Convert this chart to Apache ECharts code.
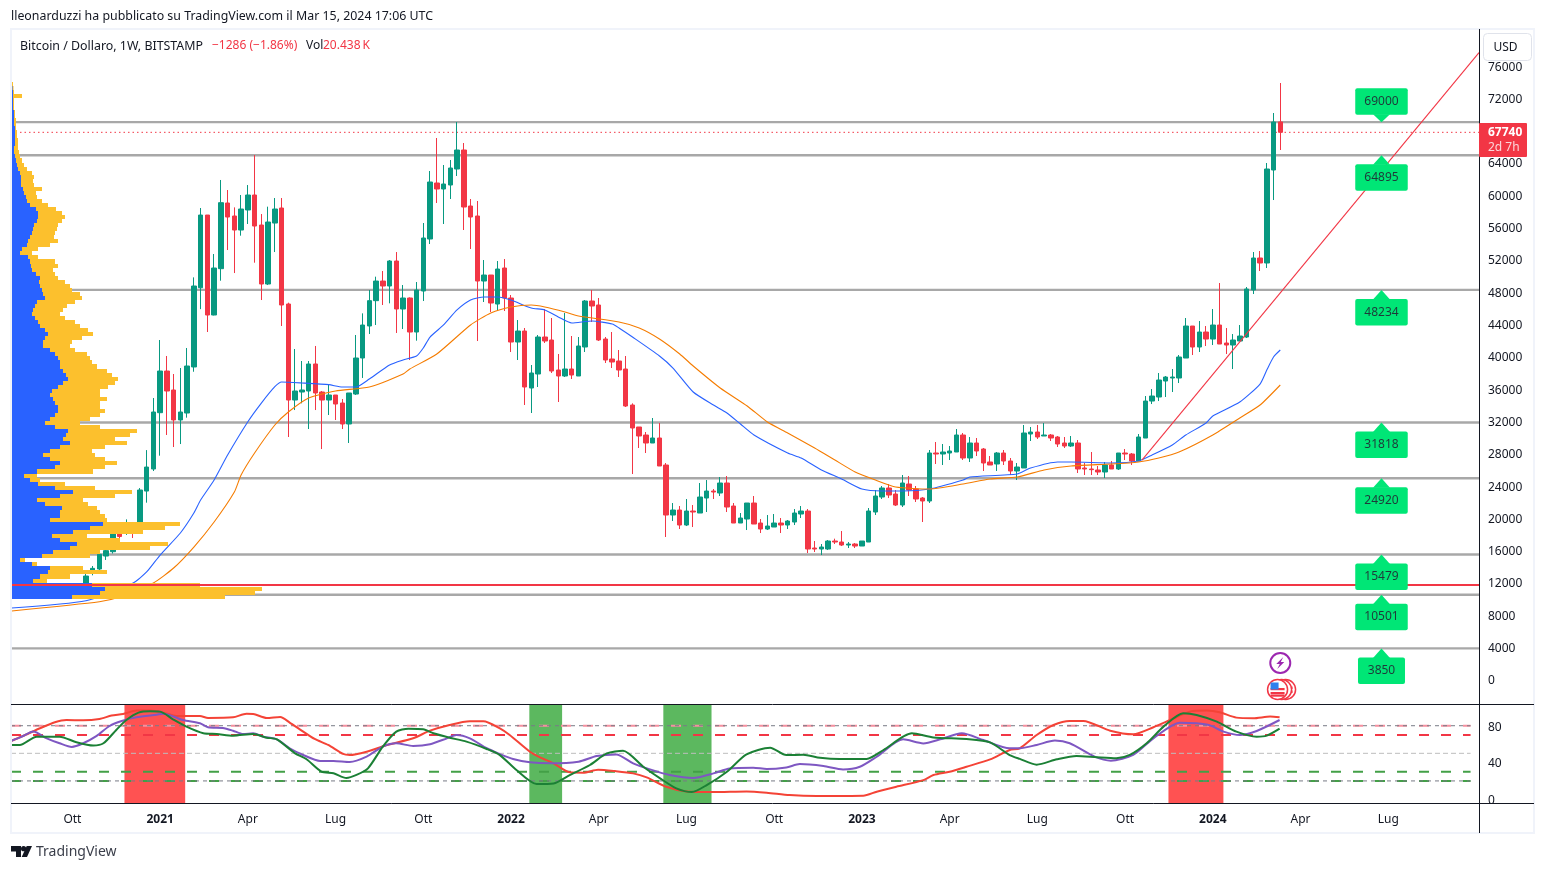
<!DOCTYPE html>
<html>
<head>
<meta charset="utf-8">
<style>html,body{margin:0;padding:0;background:#fff}#c{width:1545px;height:870px}</style>
<script src="https://cdn.jsdelivr.net/npm/echarts@6/dist/echarts.min.js"></script>
</head>
<body>
<div id="c"></div>
<script>
// ---------- DATA ----------
const headerText = 'lleonarduzzi ha pubblicato su TradingView.com il Mar 15, 2024 17:06 UTC';
const symbolText = 'Bitcoin / Dollaro, 1W, BITSTAMP';
const changeText = '\u22121286 (\u22121.86%)';
const volLabel = 'Vol';
const volText = '20.438\u2009K';
const lastPrice = 67740;
const firstCandleWeek = -167; // weeks relative to Jan 1 2024
// open, close, low, high per week
const candleOHLC = [
[11450,12810,11300,13345],[13140,13760,12900,14050],[13680,15500,13140,15900],[15285,15950,14800,16320],[15820,18100,15600,18900],
[18500,17700,16250,19450],[18100,19200,17900,19825],[19300,18800,17515,19500],[19330,23460,19000,23700],[23330,26300,21890,28400],
[26060,33115,25810,34850],[33030,38190,27710,42030],[38190,35715,30270,40050],[35840,32130,28780,37820],[32130,33115,29150,38560],
[32990,38810,32415,41040],[38690,48715,38100,49785],[48500,57500,45850,58370],[57500,45125,43020,57500],[45125,50940,45080,52675],
[50860,59030,49370,61840],[58990,57255,53170,60600],[57380,55645,50320,58450],[55645,58245,54945,59980],[58125,59980,56390,61215],
[59980,56140,51600,64930],[56265,48960,46980,57625],[48960,56636,48835,58535],[56510,58245,52920,59607],[58370,46363,43763,59607],
[46487,34600,30020,46650],[34600,35715,33360,40915],[35590,35840,34190,39430],[35715,39060,31010,39430],[39060,35470,33360,41290],
[35590,34600,28530,35715],[34600,35220,32745,36580],[35220,34105,32125,35220],[34230,31630,31010,34725],[31630,35470,29280,35470],
[35340,39800,35220,42650],[39800,43885,37330,45330],[43765,46900,42770,48217],[46900,49330,43887,49870],[49330,48715,46363,50570],
[48715,51810,46570,51930],[51810,45868,42900,52920],[45866,47228,43390,48838],[47228,43018,39553,47300],[43018,48218,41945,49208],
[48094,54656,46856,56514],[54533,61590,53913,62952],[61466,60723,58990,67037],[60723,61342,56390,63694],[61218,63323,59485,64313],
[63199,65552,62332,69018],[65552,58494,55647,66418],[58618,57256,53295,59485],[57380,49332,41904,59237],[49332,50075,46733,51932],
[50075,46608,45495,50075],[46485,50818,45618,51808],[50942,47228,45618,52056],[47228,41780,40542,47600],[41780,43142,39553,44504],
[43142,36210,33982,43515],[36087,37944,32991,38934],[37820,42401,36210,42649],[42401,41906,41658,45868],[42030,38191,37944,44753],
[38315,37572,34353,40296],[37572,38439,37449,45372],[38439,37696,37201,42525],[37572,41287,37572,42401],[41163,46858,40544,46982],
[46858,46239,44258,48220],[46363,42030,41906,47230],[42153,39553,39182,42401],[39677,39305,38563,43020],[39430,38315,37449,40791],
[38439,33858,33734,40048],[33982,31134,25439,34188],[31258,30144,28658,31258],[30267,29277,28039,30639],[29277,29896,29277,32372],
[29896,26430,26430,31753],[26553,20362,17640,26800],[20362,20981,19620,21848],[20981,19124,18630,21477],[19124,20858,18999,22344],
[20858,20734,18877,21601],[20610,22591,20610,24325],[22467,23334,20734,24696],[23334,23210,22344,23582],[23087,24325,22715,25068],
[24325,21353,20734,25191],[21477,19372,19372,21848],[19372,19991,19372,20610],[19867,21848,18505,21848],[21848,19248,19248,22715],
[19372,18630,18134,19867],[18630,18999,18505,20362],[18877,19372,18877,20486],[19372,19124,18134,19991],[19124,19620,18630,19744],
[19496,20610,19124,21106],[20486,20858,19991,21477],[20858,16154,15658,21106],[16277,16154,15782,17144],[16154,16401,15410,16772],
[16154,17144,16030,17268],[17144,17020,16772,17433],[17020,16649,16525,18382],[16649,16772,16277,17020],[16772,16525,16277,16896],
[16525,17144,16525,17144],[17020,20858,17020,21229],[20734,22715,20362,23458],[22591,23706,22344,23953],[23706,22839,22467,24201],
[22963,21601,21477,23458],[21602,24326,21354,25316],[24202,23459,22716,25192],[23583,22345,21973,23955],[22469,22097,19497,22593],
[22097,28040,21850,28412],[28040,27916,26678,29402],[27916,28164,26554,29154],[28040,28288,27173,28907],[28164,30268,28164,31012],
[30268,27421,27173,30516],[27421,29278,26926,30021],[29278,28288,27669,29897],[28535,26802,25811,28659],[26926,26554,26554,27669],
[26678,28040,25811,28164],[28040,27050,26554,28412],[27050,25811,25316,27421],[25811,26307,24697,26802],[26183,30516,26183,31507],
[30392,30640,29526,31259],[30640,30021,29773,31507],[30145,30268,30145,31754],[30268,29897,29526,30392],[30021,29154,28783,30145],
[29278,28907,28659,30021],[28907,29278,28783,30145],[29278,26059,25564,29650],[26183,26059,25316,26802],[26059,25977,25316,28164],
[25935,25688,25316,26431],[25688,26554,24945,26926],[26554,26059,26059,27050],[26059,28040,25935,28040],[28040,27916,27173,28535],
[27916,27050,26554,28040],[27050,30021,27050,30392],[29893,34474,29893,35097],[34474,35094,34103,35961],[34970,37076,34474,37942],
[36951,37447,34970,37571],[37323,37447,35590,38437],[37323,39923,36703,40170],[39799,43761,39799,44752],[43761,41161,40170,43761],
[41161,43017,40542,44380],[43017,42150,41284,43761],[42150,43884,41408,45865],[43884,41532,41532,49085],[41656,41408,40294,43513],
[41408,42027,38436,42771],[41903,42523,41903,43884],[42399,48342,42275,48590],[48218,52180,47723,52923],[52180,51561,50570,53046],
[51561,63199,50941,63942],[63075,69018,59360,70132],[69026,67740,65551,73846]
];
// moving averages: [week, price]
const blueMA = [[-178,8850],[-167,9755],[-160,11950],[-158,13310],[-156,15410],[-153,18140],[-151,20610],[-150,22220],[-148,24700],[-146,27790],[-143,31910],[-141,34220],[-139,36250],[-138,36830],[-135,36710],[-131,36500],[-129,36210],[-127,36210],[-125,37200],[-122,38940],[-120,39560],[-118,40050],[-117,41040],[-116,42400],[-114,43890],[-112,45750],[-110,46980],[-108,47360],[-106,47360],[-104,46980],[-101,45990],[-99,45750],[-97,44880],[-95,44130],[-92,44380],[-89,44010],[-88,43520],[-86,42400],[-82,40050],[-80,38560],[-77,35590],[-74,33980],[-72,33000],[-70,31630],[-68,30270],[-63,28040],[-61,27420],[-58,25940],[-55,24820],[-52,23580],[-49,23340],[-46,23340],[-42,23580],[-37,24700],[-36,25070],[-29,25440],[-27,26180],[-23,26930],[-21,26930],[-15,26810],[-11,27050],[-9,27790],[-6,29030],[-4,30270],[-1,31750],[0,32620],[4,34350],[7,36580],[8,38310],[9,39930],[10,40790]];
const orangeMA = [[-178,8480],[-165,9630],[-162,10210],[-157,11950],[-154,13800],[-151,16400],[-148,19500],[-145,23210],[-144,25320],[-142,28040],[-139,31510],[-137,33120],[-134,34850],[-130,35720],[-125,36210],[-120,37820],[-119,38440],[-115,40300],[-110,43890],[-107,45370],[-104,46120],[-101,46360],[-99,46120],[-96,45500],[-94,45000],[-88,44260],[-85,43520],[-82,42160],[-79,40300],[-77,38810],[-73,36090],[-69,33860],[-66,31880],[-63,30520],[-59,28660],[-56,27170],[-53,25690],[-50,24700],[-47,23830],[-42,23580],[-37,24200],[-33,24820],[-29,25070],[-25,25940],[-21,26430],[-15,26680],[-11,26930],[-8,27420],[-5,28160],[0,30270],[4,32370],[7,33980],[10,36460]];
const trendLine = [[-10.5,27170],[39.45,77600]];
const levelValues = [69000,64895,48234,31818,24920,15479,10501,3850];
const supportLevel = 11700;
const levelLabelWeek = 25;
const priceTicks = [0,4000,8000,12000,16000,20000,24000,28000,32000,36000,40000,44000,48000,52000,56000,60000,64000,72000,76000];
const timeTickWeeks = [-169,-156,-143,-130,-117,-104,-91,-78,-65,-52,-39,-26,-13,0,13,26];
const timeTickLabels = ['Ott','2021','Apr','Lug','Ott','2022','Apr','Lug','Ott','2023','Apr','Lug','Ott','2024','Apr','Lug'];
// volume profile, one row per 500 USD from 10000 upward: [buy edge, total edge]
const profileBase = 10000;
const profileBlue = [72,100,105,92,33,40,48,50,32,20,42,53,70,77,60,52,73,90,103,50,60,60,62,45,37,60,73,55,38,30,24,37,55,60,50,43,50,60,70,63,66,68,55,45,50,55,58,58,55,53,50,52,58,63,68,66,63,60,60,58,55,50,43,43,45,48,45,40,38,35,32,33,35,37,45,43,42,40,39,40,36,32,31,30,28,20,22,27,28,30,32,33,34,37,38,38,36,30,27,26,24,23,21,21,21,20,18,17,16,15,14,14,15,15,15,15,15,14,14,14,14,13,13,13,13,13,12.5,12];
const profileTotal = [225,255,262,200,47,70,107,83,37,25,90,100,150,168,120,87,143,165,180,107,105,100,97,88,83,115,132,95,65,40,37,93,105,117,105,95,92,105,127,115,130,137,100,80,90,100,105,100,100,107,100,100,108,115,118,112,107,97,92,90,87,75,70,72,82,93,88,80,75,65,60,63,67,75,82,80,72,70,65,58,55,53,58,55,38,32,38,50,58,54,55,57,58,62,65,62,56,48,42,37,36,42,34,33,34,32,27,24,22,20,19,18,18,18,17,17,16,16,16,15,15,14,14,14,22,14,13.5,13];
// oscillator: [week, value]
const oscRed = [[-178.1,63.4],[-176,69.9],[-173.8,77.2],[-171.6,83.7],[-169.9,86.2],[-167.4,85.9],[-165,87.3],[-163.2,91],[-161.5,92.8],[-159.5,96.4],[-157.5,96.4],[-155.5,94.2],[-153.6,90.6],[-150.1,90.6],[-148.9,88.4],[-145.2,89.1],[-143.2,93.1],[-142.2,92.8],[-140.2,88.4],[-138.2,89.5],[-136.8,83.4],[-135.3,76.1],[-133.1,65.6],[-131.1,59.1],[-128.9,49.3],[-127.9,48.2],[-125.4,51.8],[-122.5,58.7],[-118.5,66.3],[-116,74.6],[-113.1,80.8],[-110.1,84.8],[-108.1,84.8],[-105.65,77.1],[-104.2,69.9],[-101.2,51.7],[-99.7,45.6],[-97.7,39.1],[-95.3,29.3],[-93.3,28.9],[-91.1,32.2],[-88.6,30.7],[-85.9,28.2],[-83.9,23.8],[-81,13.7],[-78,8.6],[-74,7.9],[-69.1,8.6],[-66.1,7.2],[-62.7,4.6],[-58.7,3.6],[-51.8,3.9],[-49.8,8.3],[-46.9,13.7],[-42.9,20.9],[-41.4,26.4],[-39,30],[-36.5,35.4],[-33,43.4],[-30.1,53.6],[-28.6,55.4],[-26.1,69.9],[-23.6,80.8],[-21.2,85.2],[-19.2,85.2],[-15.2,74.6],[-11.8,70.7],[-8.8,78.3],[-6.3,86.2],[-3.4,95.3],[-0.9,96.4],[1,94.6],[3.5,88.8],[6,88.1],[8.5,89.9],[9.9,89.1]];
const oscPurple = [[-178.1,63.4],[-176.5,68.1],[-174.8,73.6],[-172.8,66.3],[-170.9,60.9],[-169.1,56.9],[-167.4,60.9],[-165.4,68.9],[-163.5,79.7],[-161.7,85.2],[-159.5,89.1],[-156.5,92],[-155.5,93.1],[-152.6,86.2],[-150.1,82.6],[-148.9,78.3],[-146.7,77.5],[-145.2,74.6],[-143.7,71],[-142.2,71.8],[-140.7,68.1],[-138.7,65.2],[-136.8,55.5],[-134.8,48.2],[-132.3,41.7],[-130.3,41.7],[-127.9,40.6],[-125.4,46.4],[-123,57.3],[-121,60.9],[-118.5,58],[-116,59.8],[-113.5,66.3],[-112.1,70],[-110.1,66.3],[-107.6,55.5],[-105.65,49.2],[-103.7,43.8],[-101.2,40.2],[-98.2,39.1],[-94,40.9],[-91.3,47],[-88.4,48.8],[-85.9,39.1],[-83.4,32.5],[-80.5,26.4],[-77,23.1],[-74,28.2],[-71.6,33.6],[-68.1,34.4],[-66.1,32.9],[-63.2,34.7],[-61.2,38.3],[-57.7,36.2],[-54.8,32.5],[-52.3,35.4],[-49.8,46.3],[-45.9,65.2],[-42.9,60.8],[-40.4,65.2],[-37.2,71.7],[-34,64.4],[-30.1,55.4],[-28.6,55.4],[-26.1,59.1],[-23.4,63.8],[-21.2,60.9],[-17.5,46.4],[-15.1,42],[-11.8,48.2],[-8.8,66.3],[-4.9,83.3],[-2.4,82.6],[-0.4,80.4],[1.6,73.6],[4,69.9],[6.5,74.3],[9.9,86.2]];
const oscGreen = [[-178.1,59.1],[-176.8,59.1],[-174.3,68.1],[-170.9,68.1],[-168.4,62],[-165.9,58.4],[-164.4,60.9],[-162.5,75.4],[-161,86.2],[-159.2,94.2],[-157.5,95.7],[-156,95.3],[-154.1,87],[-152.1,79],[-149.6,71.8],[-147.6,71],[-145.2,69.2],[-142.2,71],[-140.2,67],[-138.7,65.2],[-136,50],[-134.3,43.5],[-132.1,30.1],[-130.3,28.3],[-128.4,23.2],[-126.9,26.5],[-125.2,33.7],[-123,57.3],[-121,73.6],[-119.2,76.8],[-117,76.1],[-115.5,71.8],[-113.1,67],[-110.6,62.7],[-107.6,54.7],[-105.65,48.1],[-103.2,31.8],[-100.2,16.6],[-97.7,17.3],[-95.3,26.4],[-92.3,37.3],[-89.8,49.9],[-87.4,52.8],[-84.4,35.4],[-81.9,22.8],[-79.5,11.9],[-77.2,7.9],[-75,15.5],[-72,30],[-69.1,48.8],[-65.6,56.1],[-63.2,48.1],[-60.7,48.5],[-58.2,45.2],[-55.3,43.8],[-51.3,43.8],[-48.8,53.6],[-44.6,71.7],[-41.4,67.3],[-36.5,65.5],[-33,61.9],[-30.1,48.1],[-28.6,43.9],[-26.1,37.7],[-23.1,43.5],[-20.2,47.1],[-17.2,45.7],[-14.3,44.6],[-12.3,48.2],[-9.8,60.9],[-7.3,79],[-4.4,93.5],[-2.4,91.7],[0.6,84.4],[3.5,73.6],[6.5,68.1],[8,69.2],[9.9,76.8]];
const oscTicks = [0,40,80];
const oscRedBands = [['2020-11-28','2021-01-30'],['2023-11-16','2024-01-12']];
const oscGreenBands = [['2022-01-22','2022-02-25'],['2022-06-10','2022-07-30']];

// ---------- STYLE + SCALES ----------
const FONT = '"Noto Sans", sans-serif';
const INK = '#131722', RED = '#f23645', GREEN = '#089981';
const WEEK = 7*864e5, JAN1 = Date.UTC(2024,0,1);
const xMin = -178.1, xMax = 39.45, lineEnd = 38.2;
const tickMap = {}; timeTickWeeks.forEach((w,i)=>{tickMap[w] = timeTickLabels[i];});
const candles = candleOHLC.map((c,i)=>[firstCandleWeek+i, c[0], c[1], c[2], c[3]]);
const profileRows = profileBlue.map((b,i)=>[profileBase+i*500, b, profileTotal[i]]);
const d = s => (Date.parse(s+'T00:00:00Z')-JAN1)/WEEK;

function flat(v, color, width, dash, z, xa){
  return {type:'line', xAxisIndex:xa, yAxisIndex:xa, data:[[xMin,v],[xa===1?lineEnd:xMax,v]], showSymbol:false, silent:true, z:z,
    lineStyle:{color:color,width:width,type:dash}, animation:false};
}
function priceFlat(v,color,width,dash,z){ return flat(v,color,width,dash,z,0); }
function oscFlat(v,color,width,dash,z){ return flat(v,color,width,dash,z,1); }
function oscLine(pts,color){
  return {type:'line', xAxisIndex:1, yAxisIndex:1, data:pts, showSymbol:false, smooth:0.25, silent:true, z:5,
    lineStyle:{color:color,width:2}, animation:false};
}

function renderLevel(params, api){
  const v = api.value(1);
  const p = api.coord([api.value(0), v]);
  const below = v !== levelValues[0];
  const label = String(v);
  const w = label.length === 5 ? 52.5 : 47, h = 26.5, gap = below ? 9 : 7.5;
  const cx = p[0], y0 = below ? p[1]+gap : p[1]-gap-h;
  const baseY = below ? y0+0.5 : y0+h-0.5;
  return {type:'group', children:[
    {type:'rect', shape:{x:cx-w/2,y:y0,width:w,height:h,r:2}, style:{fill:'#00e676'}},
    {type:'polygon', shape:{points:[[cx-8.5,baseY],[cx+8.5,baseY],[cx,p[1]]]}, style:{fill:'#00e676'}},
    {type:'text', style:{x:cx,y:y0+h/2,text:label,align:'center',verticalAlign:'middle',font:'12px '+FONT,fill:'#1e3a3a'}}
  ]};
}
function renderProfile(params, api){
  const p = api.value(0);
  const a = api.coord([11,p]), top = api.coord([11,p+500]);
  const bx = api.coord([api.value(1),p])[0], tx = api.coord([api.value(2),p])[0];
  const y = Math.round(top[1]), h = Math.round(a[1])-y;
  return {type:'group', children:[
    {type:'rect', shape:{x:a[0],y:y,width:tx-a[0],height:h}, style:{fill:'#fcc02d'}},
    {type:'rect', shape:{x:a[0],y:y,width:bx-a[0],height:h}, style:{fill:'#2962ff'}}
  ]};
}
function renderIcons(params, api){
  const p = api.coord([api.value(0), api.value(1)]);
  const cx=p[0], cy=p[1];
  if (params.dataIndex===0) {
    return {type:'group', children:[
      {type:'circle', shape:{cx:cx,cy:cy,r:10}, style:{fill:'#fff',stroke:'#9c27b0',lineWidth:2}},
      {type:'polygon', shape:{points:[[cx+3,cy-6],[cx-4,cy+1],[cx-0.5,cy+1],[cx-3,cy+6],[cx+4,cy-1],[cx+0.5,cy-1]]}, style:{fill:'#9c27b0'}}
    ]};
  }
  const ring = (x)=>({type:'circle', shape:{cx:x,cy:cy,r:10},style:{fill:'#fff',stroke:RED,lineWidth:1.5}});
  const stripe = (yy)=>({type:'rect', shape:{x:cx-7,y:yy,width:14,height:2.2}, style:{fill:'#f23645'}});
  return {type:'group', children:[
    ring(cx+8), {type:'rect', shape:{x:cx+10,y:cy-3,width:5,height:2.5}, style:{fill:RED}}, {type:'rect', shape:{x:cx+10,y:cy+1,width:5,height:2.5}, style:{fill:RED}},
    ring(cx+4), ring(cx),
    stripe(cy-1.5), stripe(cy+2.5), stripe(cy+5),
    {type:'rect', shape:{x:cx-7,y:cy-7,width:8,height:7}, style:{fill:'#2f80ed'}}
  ]};
}

const txt = (x,y,text,fill,font) => ({type:'text', z:100, silent:true, style:{x:x,y:y,text:text,fill:fill,font:font||('12px '+FONT),verticalAlign:'middle'}});
const hline = (y) => ({type:'line', z:90, silent:true, shape:{x1:11,y1:y,x2:1534,y2:y}, style:{stroke:'#131722',lineWidth:1}});
const axisRich = {a:{padding:[3,0,0,0],color:INK,fontSize:12,fontFamily:FONT}};

const option = {
  animation:false,
  backgroundColor:'#fff',
  textStyle:{fontFamily:FONT},
  grid:[
    {left:11,top:29,width:1468,height:675,containLabel:false},
    {left:11,top:704,width:1468,height:99,containLabel:false},
    {left:11,top:29,width:1468,height:675,containLabel:false}
  ],
  xAxis:[
    {type:'value',gridIndex:0,min:xMin,max:xMax,axisLine:{show:false},axisTick:{show:false},splitLine:{show:false},axisLabel:{show:false}},
    {type:'value',gridIndex:1,min:xMin,max:xMax,axisLine:{show:false},axisTick:{show:false},splitLine:{show:false},
      axisLabel:{show:true,customValues:timeTickWeeks,margin:11,color:INK,fontSize:12,fontFamily:FONT,
        formatter:v=>{const s=tickMap[v]; return /^\d+$/.test(s)?'{y|'+s+'}':s;},
        rich:{y:{fontWeight:'bold',fontSize:12,color:INK,fontFamily:FONT}}}},
    {type:'value',gridIndex:2,min:11,max:1479,show:false}
  ],
  yAxis:[
    {type:'value',gridIndex:0,position:'right',min:-3033,max:80532,axisLine:{show:false},axisTick:{show:false},splitLine:{show:false},
      axisLabel:{customValues:priceTicks,margin:9,formatter:v=>'{a|'+v+'}',rich:axisRich}},
    {type:'value',gridIndex:1,position:'right',min:-4,max:103.6,axisLine:{show:false},axisTick:{show:false},splitLine:{show:false},
      axisLabel:{customValues:oscTicks,margin:9,formatter:v=>'{a|'+v+'}',rich:axisRich}},
    {type:'value',gridIndex:2,min:-3033,max:80532,show:false}
  ],
  series:[
    ...levelValues.map(v=>priceFlat(v,'#a8a8a8',2.4,'solid',1)),
    priceFlat(lastPrice,RED,1,[1.5,3],2),
    {type:'candlestick',layout:'horizontal',xAxisIndex:0,yAxisIndex:0,data:candles,barWidth:5,z:3,silent:true,
      itemStyle:{color:GREEN,color0:RED,borderColor:GREEN,borderColor0:RED,borderWidth:1}},
    {type:'line',xAxisIndex:0,yAxisIndex:0,data:blueMA,showSymbol:false,smooth:0.2,silent:true,z:4,lineStyle:{color:'#2962ff',width:1.1}},
    {type:'line',xAxisIndex:0,yAxisIndex:0,data:orangeMA,showSymbol:false,smooth:0.2,silent:true,z:4,lineStyle:{color:'#f57c00',width:1.1}},
    {type:'line',xAxisIndex:0,yAxisIndex:0,data:trendLine,showSymbol:false,silent:true,z:4,lineStyle:{color:'#f23645',width:1.1}},
    {type:'custom',xAxisIndex:2,yAxisIndex:2,data:profileRows,renderItem:renderProfile,encode:{x:[1,2],y:0},z:6,silent:true},
    priceFlat(supportLevel,'#f23645',2,'solid',7),
    {type:'custom',xAxisIndex:0,yAxisIndex:0,data:levelValues.map(v=>[levelLabelWeek,v]),renderItem:renderLevel,encode:{x:0,y:1},z:8,silent:true,clip:false},
    {type:'custom',xAxisIndex:0,yAxisIndex:0,data:[[10,2043],[9.6,-1238]],renderItem:renderIcons,encode:{x:0,y:1},z:8,silent:true,clip:false},
    {type:'line',xAxisIndex:1,yAxisIndex:1,data:[],z:1,silent:true,
      markArea:{silent:true,itemStyle:{color:'#ff5252',opacity:1},data:oscRedBands.map(b=>[{xAxis:d(b[0])},{xAxis:d(b[1])}])}},
    {type:'line',xAxisIndex:1,yAxisIndex:1,data:[],z:1,silent:true,
      markArea:{silent:true,itemStyle:{color:'#5cb85f',opacity:1},data:oscGreenBands.map(b=>[{xAxis:d(b[0])},{xAxis:d(b[1])}])}},
    oscFlat(80,'#f5909f',2,[10,12],2),
    oscFlat(80,'#787b86',1,[4,4],2),
    oscFlat(70,'#f23645',2,[10,12],2),
    oscFlat(50,'#bdbdbd',1,[5,3],2),
    oscFlat(30,'#43a047',2,[10,12],2),
    oscFlat(20,'#43a047',2,[10,12],2),
    oscFlat(20,'#787b86',1,[4,4],2),
    oscLine(oscRed,'#f44336'),
    oscLine(oscPurple,'#7e57c2'),
    oscLine(oscGreen,'#1b8035')
  ],
  graphic:{elements:[
    {type:'rect',z:80,silent:true,shape:{x:11,y:29,width:1523,height:804},style:{fill:'transparent',stroke:'#f0f3fa',lineWidth:2}},
    hline(704.5),hline(803.5),
    {type:'line',z:90,silent:true,shape:{x1:1479.5,y1:29,x2:1479.5,y2:833},style:{stroke:'#131722',lineWidth:1}},
    txt(11,16,headerText,INK,'12.38px '+FONT),
    txt(20,46,symbolText,INK,'12.4px '+FONT),
    txt(212,46,changeText,RED,'12px '+FONT),
    txt(306,46,volLabel,INK,'12px '+FONT),
    txt(323,46,volText,RED,'12px '+FONT),
    {type:'rect',z:95,silent:true,shape:{x:1483.5,y:33.5,width:48,height:27,r:4},style:{fill:'#fff',stroke:'#e0e3eb',lineWidth:1}},
    txt(1493.5,48,'USD',INK,'12px '+FONT),
    {type:'rect',z:95,silent:true,shape:{x:1479,y:123,width:48,height:34,r:1},style:{fill:RED}},
    txt(1488,133,String(lastPrice),'#fff','bold 12px '+FONT),
    txt(1488,148,'2d 7h','#fcd5d9','12px '+FONT),
    {type:'polygon',z:100,silent:true,shape:{points:[[11,846],[21,846],[21,857],[16,857],[16,851.5],[11,851.5]]},style:{fill:INK}},
    {type:'circle',z:100,silent:true,shape:{cx:23.6,cy:848.7,r:2.6},style:{fill:INK}},
    {type:'polygon',z:100,silent:true,shape:{points:[[32,846],[27,857],[21.7,857],[26.7,846]]},style:{fill:INK}},
    txt(36,852.5,'TradingView','#3a3e4a','14px '+FONT)
  ]}
};
echarts.init(document.getElementById('c')).setOption(option);
</script>
</body>
</html>
